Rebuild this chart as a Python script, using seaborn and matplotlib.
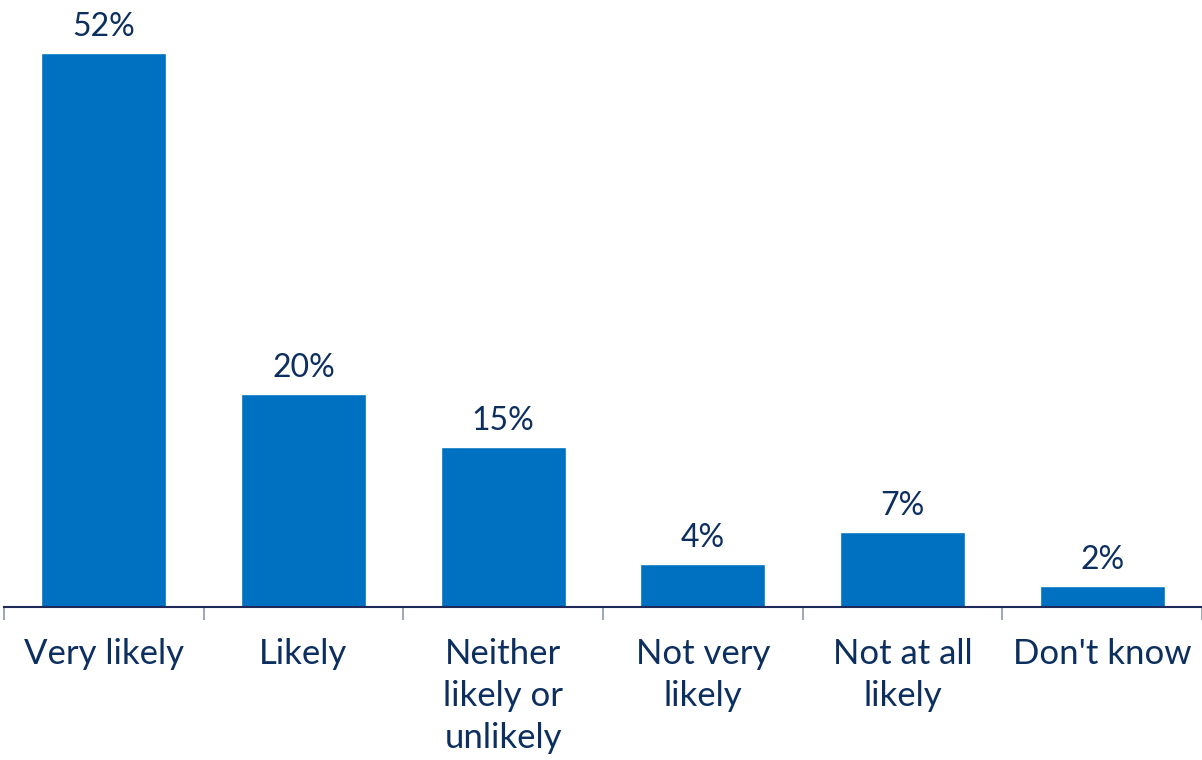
import matplotlib
matplotlib.use("Agg")
import matplotlib.pyplot as plt
import seaborn as sns
import pandas as pd
import numpy as np

categories = ["Very likely", "Likely", "Neither\nlikely or\nunlikely", "Not very\nlikely", "Not at all\nlikely", "Don't know"]
values = [52, 20, 15, 4, 7, 2]

bar_color = "#0070C0"
text_color = "#0D2F5F"

sns.set_theme(style="white")
plt.rcParams["font.family"] = ["Lato", "DejaVu Sans"]

df = pd.DataFrame({"category": categories, "value": values})

fig = plt.figure(figsize=(12.02, 7.6), dpi=100)
ax = fig.add_axes([4 / 1202, 153 / 760, 1198 / 1202, 607 / 760])

sns.barplot(data=df, x="category", y="value", color=bar_color, saturation=1,
            width=0.625, ax=ax)

ax.set_ylim(0, 57)
ax.set_xlim(-0.5, len(categories) - 0.5)

for i, v in enumerate(values):
    ax.annotate(f"{v}%", (i, v), xytext=(0, 8), textcoords="offset points",
                ha="center", va="bottom", fontsize=23, color=text_color)

# category labels sit under bar centres, tick marks at category boundaries
ax.set_xticks(np.arange(len(categories)), labels=categories, minor=True)
ax.set_xticks(np.arange(len(categories) + 1) - 0.5, labels=[""] * (len(categories) + 1))
ax.tick_params(axis="x", which="minor", length=0, pad=22, labelsize=25, labelcolor=text_color)
ax.tick_params(axis="x", which="major", length=9, width=1.2, color="#8A97AE", direction="out", bottom=True)
for lab in ax.get_xticklabels(minor=True):
    lab.set_linespacing(1.4)
    lab.set_verticalalignment("top")

ax.set_yticks([])
ax.set_xlabel("")
ax.set_ylabel("")
for side in ["top", "right", "left"]:
    ax.spines[side].set_visible(False)
ax.spines["bottom"].set_color("#1F2A5C")
ax.spines["bottom"].set_linewidth(1.5)

fig.savefig("out.png", dpi=100)
